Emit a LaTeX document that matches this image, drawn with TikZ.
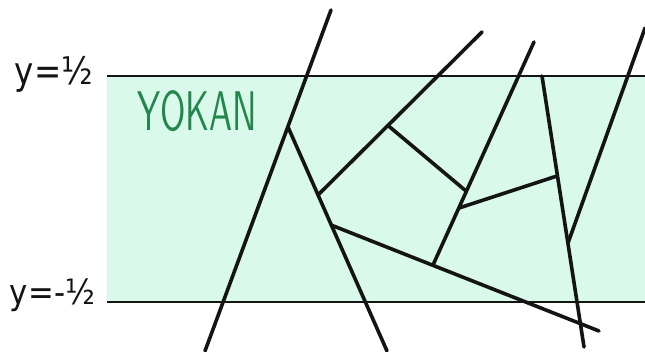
\documentclass[tikz,border=0pt]{standalone}
\usepackage{graphicx}
\usepackage{fontspec}
\newfontfamily\lblfont{DejaVu Sans}
\definecolor{mint}{HTML}{D9FAEB}
\definecolor{yokan}{HTML}{23864C}
\definecolor{ink}{HTML}{141414}
\tikzset{
  crack/.style={line width=3.6pt, line cap=round, draw=ink},
  bandline/.style={line width=2.4pt, draw=ink},
  lbl/.style={inner sep=0pt, text=ink}
}
\begin{document}
\begin{tikzpicture}[x=1pt,y=-1pt]
\useasboundingbox (0,0) rectangle (645,351);
\fill[mint] (107,76) rectangle (645,302);
\draw[bandline] (107,76) -- (645,76);
\draw[bandline] (107,302) -- (645,302);
% labels
\node[lbl] (top) at (54,74) {\resizebox*{78pt}{36pt}{\lblfont y=½}};
\node[lbl] (bot) at (52.5,295) {\resizebox*{85pt}{33pt}{\lblfont y=-½}};
\node[inner sep=0pt, anchor=north west, text=yokan] (yk) at (137,90) {\resizebox{120pt}{40pt}{\sffamily YOKAN}};
% coordinates
\coordinate (A) at (331,10);
\coordinate (B) at (205,351);
\coordinate (J1) at (288,127);
\coordinate (C2) at (387,351);
\coordinate (J2) at (318,195);
\coordinate (J3) at (331,225);
\coordinate (E3) at (482,32);
\coordinate (J4) at (388,125.5);
\coordinate (E5) at (534,42);
\coordinate (J5) at (466,191);
\coordinate (J6) at (459,208);
\coordinate (J7) at (433,265);
\coordinate (E9) at (599,331);
\coordinate (J8) at (557,176);
\coordinate (S7) at (542,76);
\coordinate (E7) at (584,347);
\coordinate (J9) at (568,243);
\coordinate (E8) at (645,28);
% cracks
\draw[crack] (A) -- (B);
\draw[crack] (J1) -- (C2);
\draw[crack] (J2) -- (E3);
\draw[crack] (J4) -- (J5);
\draw[crack] (E5) -- (J7);
\draw[crack] (J3) -- (E9);
\draw[crack] (J6) -- (J8);
\draw[crack] (S7) -- (E7);
\draw[crack] (E8) -- (J9);
\end{tikzpicture}
\end{document}
